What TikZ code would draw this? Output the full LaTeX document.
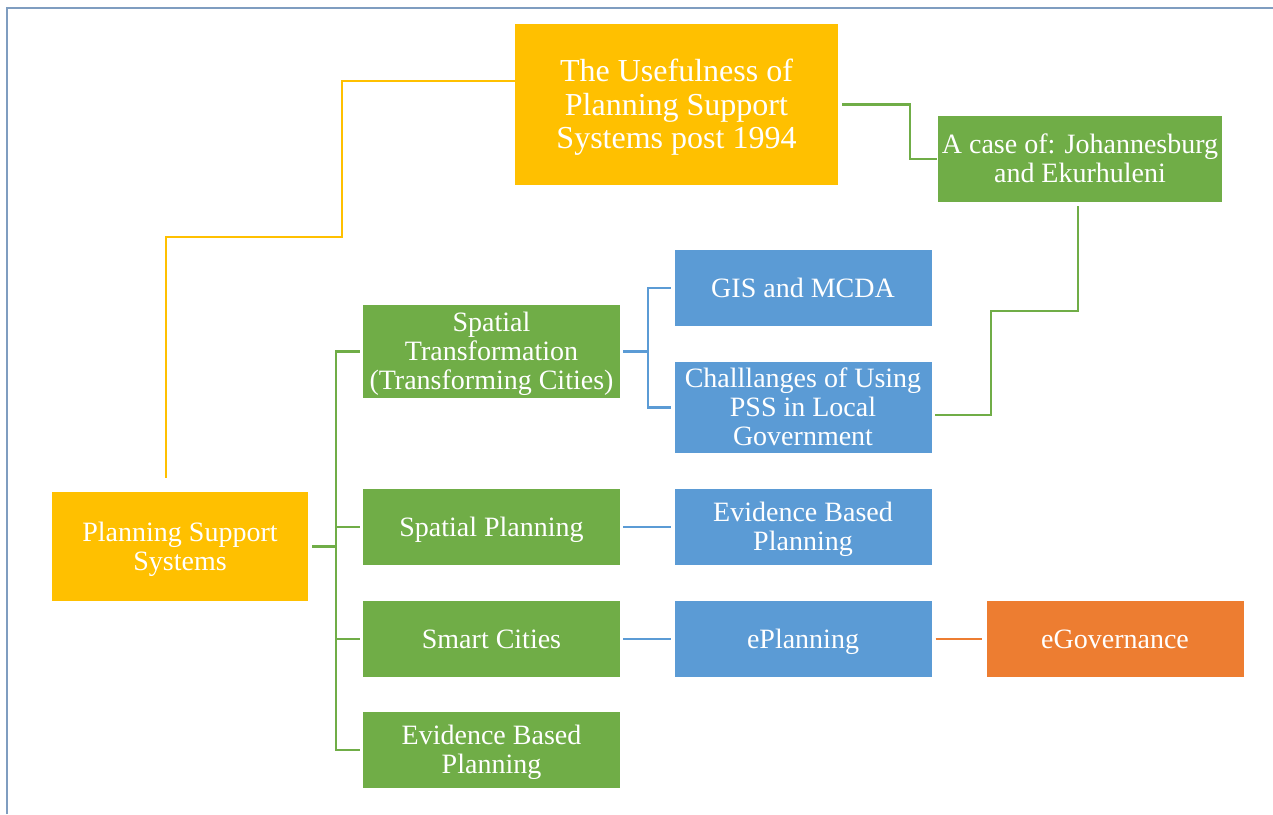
\documentclass[tikz,border=0pt]{standalone}
\usepackage{fontspec}
\setmainfont{Liberation Serif}
\definecolor{cyellow}{HTML}{FFC000}
\definecolor{cgreen}{HTML}{70AD47}
\definecolor{cblue}{HTML}{5B9BD5}
\definecolor{corange}{HTML}{ED7D31}
\definecolor{cframe}{HTML}{7F9DC0}
% strut with the ascent and descent of the serif face, so that every box
% centres its lines the same way whatever letters they hold
\newcommand\bxstrut{\rule[-0.216em]{0pt}{1.107em}}
\begin{document}
\begin{tikzpicture}[x=1pt,y=-1pt,
  box/.style={rectangle, inner sep=0pt, align=center, text=white,
    font=\fontsize{28}{29}\selectfont,
    execute at begin node=\bxstrut, execute at end node=\bxstrut},
  ybox/.style={box, fill=cyellow},
  gbox/.style={box, fill=cgreen},
  bbox/.style={box, fill=cblue},
  obox/.style={box, fill=corange},
  wide/.style={minimum width=257pt, minimum height=76pt},
  gthick/.style={draw=cgreen, line width=2.4pt},
  gthin/.style={draw=cgreen, line width=1.3pt},
  bthick/.style={draw=cblue, line width=2.4pt},
  othick/.style={draw=corange, line width=2.4pt},
  ythin/.style={draw=cyellow, line width=1.4pt},
  frameline/.style={draw=cframe, line width=1.5pt}]
\useasboundingbox (0,0) rectangle (1273,814);
\draw[frameline] (7,814) -- (7,8) -- (1273,8);

% top level
\node[ybox, minimum width=323pt, minimum height=161pt,
  font=\fontsize{32}{33.5}\selectfont] (title) at (676.5,104.5)
  {\bxstrut The Usefulness of\\Planning Support\\Systems post 1994};
\node[gbox, minimum width=284pt, minimum height=86pt] (case) at (1080,159)
  {\bxstrut A case of: Johannesburg\\and Ekurhuleni};
\node[ybox, minimum width=256pt, minimum height=109pt] (pss) at (180,546.5)
  {\bxstrut Planning Support\\Systems};

% second column
\node[gbox, minimum width=257pt, minimum height=93pt] (st) at (491.5,351.5)
  {\bxstrut Spatial\\Transformation\\(Transforming Cities)};
\node[gbox, wide] (sp) at (491.5,527) {Spatial Planning};
\node[gbox, wide] (sc) at (491.5,639) {Smart Cities};
\node[gbox, wide] (ebpg) at (491.5,750) {\bxstrut Evidence Based\\Planning};

% third column
\node[bbox, wide] (gis) at (803,288) {GIS and MCDA};
\node[bbox, minimum width=257pt, minimum height=91pt] (ch) at (803,407.5)
  {\bxstrut Challlanges of Using\\PSS in Local\\Government};
\node[bbox, wide] (ebpb) at (803,527) {\bxstrut Evidence Based\\Planning};
\node[bbox, wide] (ep) at (803,639) {ePlanning};

% fourth column
\node[obox, wide] (eg) at (1115,639) {eGovernance};

% connectors
\coordinate (ya) at (342,237);
\coordinate (yb) at (166,478);
\draw[ythin] ([yshift=23.5pt]title.west) -| (ya) -| (yb);

\draw[gthick] ([xshift=4pt]title.east) -- ++(68,0) |- ([xshift=-1pt]case.west);

\coordinate (ca) at (1078,206);
\coordinate (cb) at (991,311);
\coordinate (cc) at (935,415);
\draw[gthin] (ca) |- (cb) |- (cc);

\coordinate (gbus) at (336,546.5);
\foreach \n in {st,sp,sc,ebpg}
  \draw[gthick] ([xshift=4pt]pss.east) -- (gbus) |- ([xshift=-3pt]\n.west);

\coordinate (bbus) at (648,351.5);
\foreach \n in {gis,ch}
  \draw[bthick] ([xshift=3pt]st.east) -- (bbus) |- ([xshift=-3pt]\n.west);
\draw[bthick] ([xshift=3pt]sp.east) -- ([xshift=-3pt]ebpb.west);
\draw[bthick] ([xshift=3pt]sc.east) -- ([xshift=-3pt]ep.west);
\draw[othick] ([xshift=4pt]ep.east) -- ([xshift=-4pt]eg.west);
\end{tikzpicture}
\end{document}
